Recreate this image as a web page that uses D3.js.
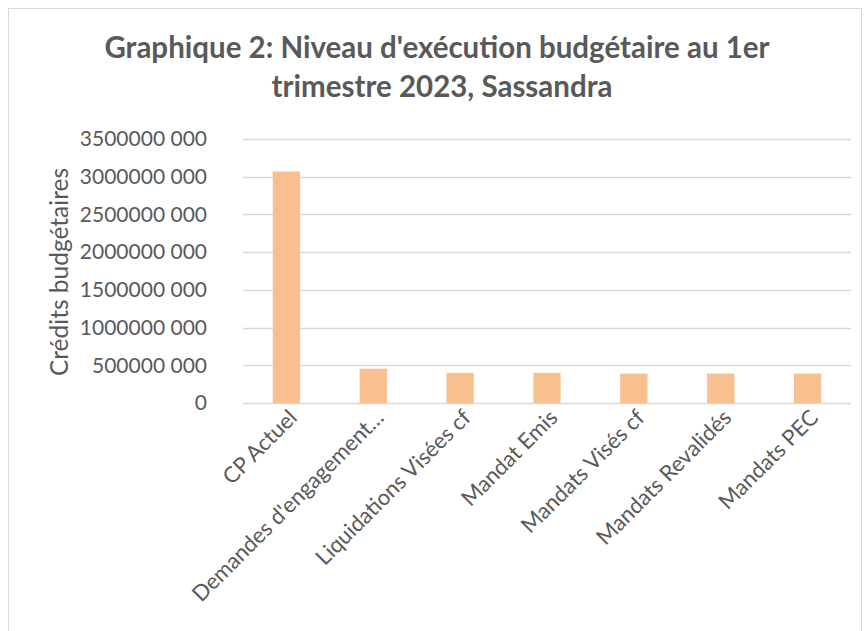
<!DOCTYPE html>
<html>
<head>
<meta charset="utf-8">
<script src="https://cdn.jsdelivr.net/npm/d3@7"></script>
<style>
  body { margin: 0; background: #fff; }
  svg { font-family: Lato, "Open Sans", sans-serif; }
</style>
</head>
<body>
<div id="viz"></div>
<script>
/*##############################
#       Chart data             #
###############################*/
var categories = ["CP Actuel", "Demandes d'engagement…", "Liquidations Visées cf", "Mandat Emis",
                  "Mandats Visés cf", "Mandats Revalidés", "Mandats PEC"];
var credits = [3070000000, 455000000, 400000000, 400000000, 390000000, 390000000, 390000000];
var yTicks = [0, 500000000, 1000000000, 1500000000, 2000000000, 2500000000, 3000000000, 3500000000];
var titleLines = ["Graphique 2: Niveau d'exécution budgétaire au 1er", "trimestre 2023, Sassandra"];
var yLabel = "Crédits budgétaires";

// "3500000 000" style: only the last group of thousands is split
function fmt(v) {
    if (v == 0) return "0";
    var rest = ("00" + (v % 1000)).slice(-3);
    return Math.floor(v / 1000) + " " + rest;
}

const W = 868, H = 631;
const margin = {top: 139, right: 17, bottom: 228, left: 243};
const width = W - margin.left - margin.right,
      height = H - margin.top - margin.bottom;

const svg = d3.select("#viz").append("svg")
    .attr("width", W)
    .attr("height", H);

// chart frame
svg.append("rect")
    .attr("x", 8.5).attr("y", 8.5)
    .attr("width", 853).attr("height", 640)
    .attr("fill", "#fff")
    .attr("stroke", "#d9d9d9")
    .attr("stroke-width", 1);

// title
svg.append("text")
    .attr("text-anchor", "middle")
    .attr("fill", "#595959")
    .attr("font-weight", "bold")
    .attr("font-size", "29.5px")
    .selectAll("tspan")
    .data(titleLines)
    .enter()
    .append("tspan")
    .attr("x", function(d, i) { return i == 0 ? 437 : 442; })
    .attr("y", function(d, i) { return 58 + i * 39; })
    .text(function(d) { return d; });

const g = svg.append("g")
    .attr("transform", "translate(" + margin.left + "," + margin.top + ")");

var x = d3.scaleBand()
    .domain(categories)
    .range([0, width])
    .paddingInner(0.685)
    .paddingOuter(0.3425);

var y = d3.scaleLinear()
    .domain([0, 3500000000])
    .range([height, 0]);

// gridlines
g.append("g")
    .selectAll("line")
    .data(yTicks)
    .enter()
    .append("line")
    .attr("x1", 0).attr("x2", width)
    .attr("y1", function(d) { return Math.round(y(d)) + 0.5; })
    .attr("y2", function(d) { return Math.round(y(d)) + 0.5; })
    .attr("stroke", "#d9d9d9")
    .attr("stroke-width", 1.5);

// y axis labels
var yAxis = g.append("g")
    .attr("transform", "translate(-33,0)")
    .call(d3.axisLeft(y).tickValues(yTicks).tickFormat(fmt).tickSize(0));
yAxis.select(".domain").remove();
yAxis.selectAll("text")
    .attr("fill", "#595959")
    .attr("font-size", "21px")
    .attr("font-family", "Lato, 'Open Sans', sans-serif");

// bars
g.append("g")
    .selectAll("rect")
    .data(credits)
    .enter()
    .append("rect")
    .attr("fill", "#F9C08F")
    .attr("x", function(d, i) { return x(categories[i]); })
    .attr("width", x.bandwidth())
    .attr("y", function(d) { return y(d); })
    .attr("height", function(d) { return height - y(d); });

// x axis labels, rotated
var xAxis = g.append("g")
    .attr("transform", "translate(0," + height + ")")
    .call(d3.axisBottom(x).tickSize(0).tickPadding(0));
xAxis.select(".domain").remove();
xAxis.selectAll("text")
    .attr("fill", "#595959")
    .attr("font-size", "22px")
    .attr("font-family", "Lato, 'Open Sans', sans-serif")
    .attr("text-anchor", "end")
    .attr("dy", "0")
    .attr("transform", "translate(12,16) rotate(-45)");

// y axis title
svg.append("text")
    .attr("transform", "translate(68,272) rotate(-90)")
    .attr("text-anchor", "middle")
    .attr("fill", "#595959")
    .attr("font-size", "24.5px")
    .text(yLabel);
</script>
</body>
</html>
